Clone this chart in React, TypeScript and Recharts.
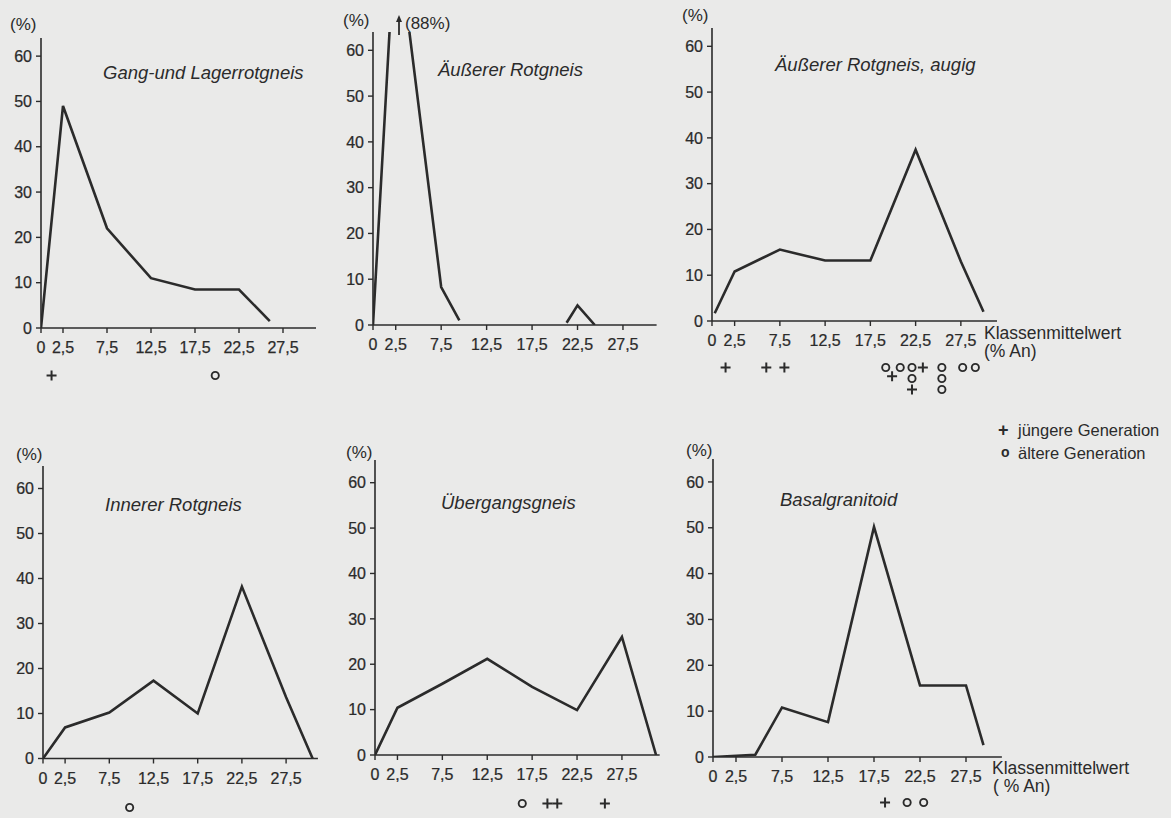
import React from "react";
import { LineChart, Line, XAxis, YAxis, ScatterChart, Scatter } from "recharts";

const INK = "#2b2b2b";
const TICK_FONT = "'Liberation Sans Narrow', 'Liberation Sans', sans-serif";
const TITLE_FONT = "'Liberation Sans', sans-serif";

const classTicks = [0, 2.5, 7.5, 12.5, 17.5, 22.5, 27.5];
const pctTicks = [0, 10, 20, 30, 40, 50, 60];

// Klassenmittelwert (% An) -> Häufigkeit (%)
const gangX = [0, 2.5, 7.5, 12.5, 17.5, 22.5, 26];
const gangY = [0, 49, 22, 11, 8.5, 8.5, 1.5];

const aussenX = [0, 2.5, 7.5, 9.5, 15, 21.3, 22.5, 24.4];
const aussenY = [0, 88, 8.3, 1, null, 0.5, 4.3, 0];

const augigX = [0.3, 2.5, 7.5, 12.5, 17.5, 22.5, 27.5, 30];
const augigY = [1.7, 10.8, 15.6, 13.2, 13.2, 37.4, 13, 2];

const innenX = [0, 2.5, 7.5, 12.5, 17.5, 22.5, 27.5, 30.5];
const innenY = [0, 6.9, 10.2, 17.3, 10, 38.2, 13.6, 0];

const uebergangX = [0, 2.5, 7.5, 12.5, 17.5, 22.5, 27.5, 31.3];
const uebergangY = [0, 10.4, 15.7, 21.2, 15, 9.9, 26, 0];

const basalX = [0, 4.6, 7.5, 12.5, 17.5, 22.5, 27.5, 29.4];
const basalY = [0, 0.5, 10.8, 7.6, 50.2, 15.6, 15.6, 2.6];

// Einzelproben unter der Achse: [% An, Zeile]
const gangJung = [[1.2, 0]];
const gangAlt = [[19.8, 0]];
const augigJung = [[1.5, 0], [6, 0], [8, 0], [19.9, 0.8], [22.1, 2], [23.3, 0]];
const augigAlt = [[19.2, 0], [20.8, 0], [22.1, 0], [22.1, 1], [25.4, 0], [25.4, 1], [25.4, 2], [27.7, 0], [29.1, 0]];
const innenAlt = [[9.8, 0]];
const uebergangJung = [[19.2, 0], [20.3, 0], [25.6, 0]];
const uebergangAlt = [[16.4, 0]];
const basalJung = [[18.7, 0]];
const basalAlt = [[21.1, 0], [22.9, 0]];

const toRows = (xs: number[], ys: (number | null)[]) => xs.map((x, i) => ({ x, y: ys[i] }));
const toMarks = (m: number[][]) => m.map(([x, row]) => ({ x, row }));
const fmt = (v: number) => String(v).replace(".", ",");

const YW = 44;
const XH = 38;

const Plus = (p: any) => (
  <path d={`M${p.cx - 5},${p.cy}H${p.cx + 5}M${p.cx},${p.cy - 5}V${p.cy + 5}`} stroke={INK} strokeWidth={2} fill="none" />
);
const Ring = (p: any) => <circle cx={p.cx} cy={p.cy} r={3.6} stroke={INK} strokeWidth={1.9} fill="none" />;

function Txt({ x, y, children, size = 16, italic = false, font = TITLE_FONT, weight = 400 }: any) {
  return (
    <div
      style={{
        position: "absolute",
        left: x,
        top: y - 11,
        lineHeight: "22px",
        fontSize: size,
        fontStyle: italic ? "italic" : "normal",
        fontWeight: weight,
        fontFamily: font,
        color: INK,
        whiteSpace: "nowrap",
      }}
    >
      {children}
    </div>
  );
}

const tickStyle = { fill: INK, fontSize: 16, fontFamily: TICK_FONT, stroke: INK, strokeWidth: 0.25 };

function Panel({ cfg }: any) {
  const plotW = cfg.xMax * cfg.unitX;
  const plotH = cfg.zeroY - cfg.topY;
  const w = YW + plotW;
  return (
    <>
      <div style={{ position: "absolute", left: cfg.axisX - YW, top: cfg.topY }}>
        <LineChart width={w} height={plotH + XH} data={cfg.rows} margin={{ top: 0, right: 0, left: 0, bottom: 0 }}>
          <XAxis
            dataKey="x"
            type="number"
            domain={[0, cfg.xMax]}
            ticks={classTicks}
            interval={0}
            tickFormatter={fmt}
            allowDataOverflow
            height={XH}
            tickSize={5}
            tickMargin={9}
            stroke={INK}
            axisLine={{ stroke: INK, strokeWidth: 1.6 }}
            tickLine={{ stroke: INK, strokeWidth: 1.4 }}
            tick={tickStyle}
          />
          <YAxis
            type="number"
            domain={[0, cfg.yMax]}
            ticks={pctTicks}
            interval={0}
            allowDataOverflow
            width={YW}
            tickSize={5}
            tickMargin={4}
            stroke={INK}
            axisLine={{ stroke: INK, strokeWidth: 1.6 }}
            tickLine={{ stroke: INK, strokeWidth: 1.4 }}
            tick={tickStyle}
          />
          <Line
            dataKey="y"
            type="linear"
            stroke={INK}
            strokeWidth={2.6}
            dot={false}
            activeDot={false}
            connectNulls={false}
            isAnimationActive={false}
          />
        </LineChart>
      </div>
      <div style={{ position: "absolute", left: cfg.axisX - YW, top: cfg.markY - 5.5 }}>
        <ScatterChart width={w} height={33} margin={{ top: 0, right: 0, bottom: 0, left: YW }}>
          <XAxis type="number" dataKey="x" domain={[0, cfg.xMax]} hide allowDataOverflow />
          <YAxis type="number" dataKey="row" domain={[-0.5, 2.5]} reversed hide allowDataOverflow />
          <Scatter data={cfg.jung} shape={Plus} isAnimationActive={false} />
          <Scatter data={cfg.alt} shape={Ring} isAnimationActive={false} />
        </ScatterChart>
      </div>
      <Txt x={cfg.pct[0]} y={cfg.pct[1]} size={17} font={TICK_FONT}>(%)</Txt>
      <Txt x={cfg.title[0]} y={cfg.title[1]} size={18.5} italic>{cfg.name}</Txt>
    </>
  );
}

const panels = [
  { name: "Gang-und Lagerrotgneis", rows: toRows(gangX, gangY), jung: toMarks(gangJung), alt: toMarks(gangAlt),
    axisX: 41, zeroY: 328, topY: 38, unitX: 8.8, xMax: 31.25, yMax: 64, markY: 375, title: [103, 73], pct: [10, 25] },
  { name: "Äußerer Rotgneis", rows: toRows(aussenX, aussenY), jung: [], alt: [],
    axisX: 373, zeroY: 325, topY: 32, unitX: 9.09, xMax: 31.2, yMax: 64, markY: 375, title: [438, 70], pct: [343, 21] },
  { name: "Äußerer Rotgneis, augig", rows: toRows(augigX, augigY), jung: toMarks(augigJung), alt: toMarks(augigAlt),
    axisX: 712, zeroY: 321, topY: 28, unitX: 9.05, xMax: 31.5, yMax: 64, markY: 367, title: [775, 65], pct: [682, 16] },
  { name: "Innerer Rotgneis", rows: toRows(innenX, innenY), jung: [], alt: toMarks(innenAlt),
    axisX: 43, zeroY: 758, topY: 465.5, unitX: 8.84, xMax: 31.1, yMax: 65, markY: 807, title: [105, 505], pct: [16, 455] },
  { name: "Übergangsgneis", rows: toRows(uebergangX, uebergangY), jung: toMarks(uebergangJung), alt: toMarks(uebergangAlt),
    axisX: 375, zeroY: 755, topY: 460, unitX: 8.98, xMax: 31.7, yMax: 65, markY: 803, title: [441, 503], pct: [346, 453] },
  { name: "Basalgranitoid", rows: toRows(basalX, basalY), jung: toMarks(basalJung), alt: toMarks(basalAlt),
    axisX: 713, zeroY: 757, topY: 459, unitX: 9.2, xMax: 31.4, yMax: 65, markY: 802, title: [780, 500], pct: [686, 451] },
];

export default function App() {
  return (
    <div style={{ position: "absolute", left: 0, top: 0, width: 1171, height: 818, background: "#eaeae9", overflow: "hidden" }}>
      {panels.map((p) => (
        <Panel key={p.name} cfg={p} />
      ))}
      <svg style={{ position: "absolute", left: 394, top: 14 }} width={10} height={22}>
        <path d="M5,21V4" stroke={INK} strokeWidth={1.8} />
        <path d="M2,8L5,1L8,8Z" fill={INK} />
      </svg>
      <Txt x={405} y={24} size={17} font={TICK_FONT}>(88%)</Txt>
      <Txt x={984} y={333} size={17.5}>Klassenmittelwert</Txt>
      <Txt x={984} y={351} size={17.5}>(% An)</Txt>
      <Txt x={992} y={768} size={17.5}>Klassenmittelwert</Txt>
      <Txt x={993} y={786} size={17.5}>( % An)</Txt>
      <Txt x={998} y={430} size={18} weight={700}>+</Txt>
      <Txt x={1018} y={430} size={16.5}>jüngere Generation</Txt>
      <Txt x={1001} y={452} size={14} weight={700}>o</Txt>
      <Txt x={1018} y={453} size={16.5}>ältere Generation</Txt>
    </div>
  );
}
